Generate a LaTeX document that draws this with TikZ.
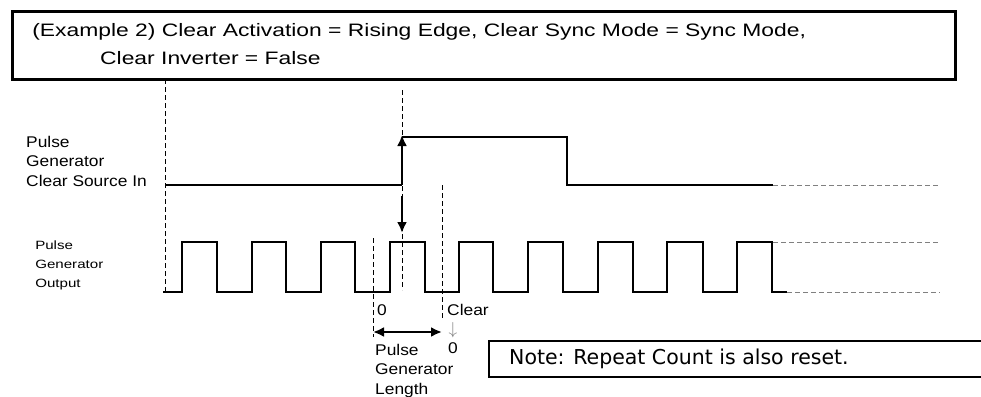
\documentclass[tikz,border=0pt]{standalone}
\usepackage{fontspec}
\setmainfont{Liberation Sans}
\newfontfamily\notefont{DejaVu Sans}
\usetikzlibrary{arrows.meta}

\begin{document}
\begin{tikzpicture}[x=1pt,y=-1pt,
  wave/.style={line width=2.8pt},
  guide/.style={line width=0.9pt,dash pattern=on 5pt off 3pt},
  extend/.style={gray,line width=0.8pt,dash pattern=on 5pt off 3pt},
  siglabel/.style={anchor=base west,align=left,inner sep=0pt,xscale=1.12,font=\fontsize{15.5}{19.5}\selectfont},
  outlabel/.style={anchor=base west,align=left,inner sep=0pt,xscale=1.26,font=\fontsize{12}{19}\selectfont}]
\useasboundingbox (0,0) rectangle (981,396);
% header box (text anchored on its last line)
\draw[line width=3pt] (12,12) rectangle (955,79);
\node[anchor=base west,align=left,inner sep=0pt,xscale=1.27,font=\fontsize{18}{28}\selectfont] (title) at (32,64)
  {(Example 2) Clear Activation = Rising Edge, Clear Sync Mode = Sync Mode,\\\hspace*{53.5pt}Clear Inverter = False};
% signal names
\node[siglabel] (clrname) at (26,186) {Pulse\\Generator\\Clear Source In};
\node[outlabel] (outname) at (35,287) {Pulse\\Generator\\Output};
% guide lines
\draw[guide] (165,79) -- (165,292);
\draw[guide] (402,90) -- (402,290);
\draw[guide] (373,238) -- (373,337);
\draw[guide] (442,185) -- (442,320);
% clear source in
\draw[wave] (165,185) -- (402,185);
\draw[wave,-{Latex[length=11pt,width=10pt]}] (402,185) -- (402,135);
\draw[wave] (402,137) -- (567,137) -- (567,185) -- (773,185);
\draw[extend] (773,185) -- (940,185);
% pulse generator output
\draw[wave] (163,292)
  foreach \r/\f in {182/217,252/286,321/355,390/425,459/493,528/563,598/633,667/703,737/772}
  { -- (\r,292) -- (\r,242) -- (\f,242) -- (\f,292) } -- (787,292);
\draw[extend] (773,242) -- (940,242);
\draw[extend] (787,292) -- (940,292);
% clear takes effect
\draw[line width=2.2pt,-{Latex[length=11pt,width=10pt]}] (402,196) -- (402,233);
\coordinate (lenstart) at (373,332);
\coordinate (lenend) at (442,332);
\draw[line width=2.2pt,{Latex[length=11pt,width=10pt]}-{Latex[length=11pt,width=10pt]}] (lenstart) -- (lenend);
\node[siglabel] (zero) at (377,315) {0};
\node[siglabel] (clear) at (447,315) {Clear};
\node[gray,inner sep=0pt,font=\fontsize{17}{17}\selectfont] (down) at (453,330) {$\downarrow$};
\node[siglabel] (zeroafter) at (448,353) {0};
\node[siglabel] (lenname) at (375,394) {Pulse\\Generator\\Length};
% note
\draw[line width=1.8pt] (489,341) rectangle (995,377);
\node[anchor=base west,inner sep=0pt,font=\notefont\fontsize{20.5}{24}\selectfont] (note) at (509,364) {Note: Repeat Count is also reset.};
\end{tikzpicture}
\end{document}
